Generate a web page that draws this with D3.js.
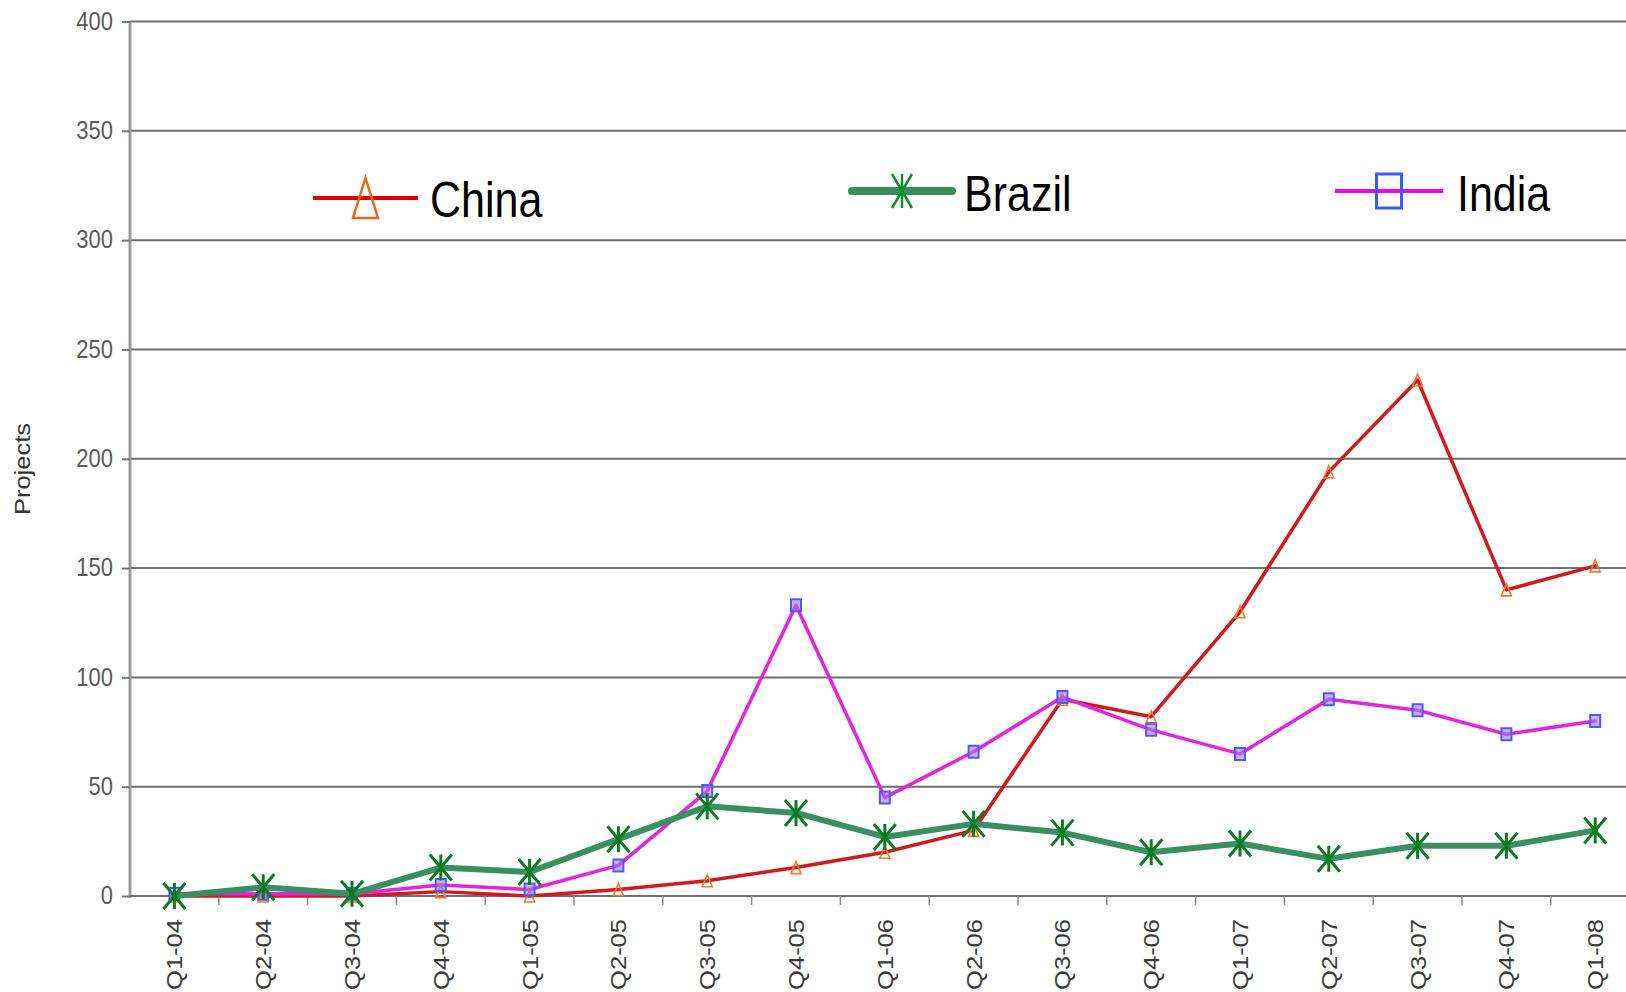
<!DOCTYPE html>
<html>
<head>
<meta charset="utf-8">
<script src="https://cdn.jsdelivr.net/npm/d3@7"></script>
<style>
  html, body { margin: 0; padding: 0; background: #fff; overflow: hidden; }
  svg { display: block; font-family: "Liberation Sans", Arial, sans-serif; }
</style>
</head>
<body>
<svg id="chart" width="1626" height="992"></svg>
<script>
// Quarterly project counts per country
const quarters = ["Q1-04","Q2-04","Q3-04","Q4-04","Q1-05","Q2-05","Q3-05","Q4-05",
                  "Q1-06","Q2-06","Q3-06","Q4-06","Q1-07","Q2-07","Q3-07","Q4-07","Q1-08"];
const china  = [0, 0, 0, 2, 0, 3, 7, 13, 20, 30, 90, 82, 130, 194, 236, 140, 151];
const brazil = [0, 4, 1, 13, 11, 26, 41, 38, 27, 33, 29, 20, 24, 17, 23, 23, 30];
const india  = [1, 1, 1, 5, 3, 14, 48, 133, 45, 66, 91, 76, 65, 90, 85, 74, 80];
const yTicks = [0, 50, 100, 150, 200, 250, 300, 350, 400];
const legendNames = ["China", "Brazil", "India"];

const svg = d3.select("#chart");
const left = 130, band = 88.8;
const x = d3.scaleBand().domain(quarters).range([left, left + band * quarters.length]);
const y = d3.scaleLinear().domain([0, 400]).range([896, 21.5]);
const cx = d => x(d) + x.bandwidth() / 2;

// horizontal gridlines
svg.append("g").selectAll("line").data(yTicks.filter(v => v > 0)).join("line")
  .attr("x1", left).attr("x2", 1626)
  .attr("y1", d => y(d)).attr("y2", d => y(d))
  .attr("stroke", "#6e6e6e").attr("stroke-width", 2);

// y axis
const yAxis = svg.append("g").attr("transform", `translate(${left},0)`)
  .call(d3.axisLeft(y).tickValues(yTicks).tickSize(8).tickPadding(9));
yAxis.select(".domain").attr("stroke", "#9a9a9a").attr("stroke-width", 3)
  .attr("d", `M0,${y(400)}V${y(0) + 2}`);
yAxis.selectAll(".tick line").attr("stroke", "#777").attr("stroke-width", 2);
yAxis.selectAll(".tick text")
  .attr("font-size", 22).attr("fill", "#5a5a5a")
  .attr("transform", "scale(1,1.16)").attr("dy", "0.3em");

// x axis baseline and boundary ticks
svg.append("line").attr("x1", left).attr("x2", 1626)
  .attr("y1", y(0)).attr("y2", y(0)).attr("stroke", "#6e6e6e").attr("stroke-width", 2);
svg.append("g").selectAll("line").data(quarters.slice(1)).join("line")
  .attr("x1", d => x(d)).attr("x2", d => x(d))
  .attr("y1", y(0)).attr("y2", y(0) + 9)
  .attr("stroke", "#8a8a8a").attr("stroke-width", 1.5);

// category labels
const xAxis = svg.append("g").attr("transform", `translate(0,${y(0)})`)
  .call(d3.axisBottom(x).tickSize(0).tickPadding(0));
xAxis.select(".domain").remove();
xAxis.selectAll(".tick text")
  .attr("font-size", 22).attr("fill", "#3a3a3a")
  .attr("text-anchor", "end").attr("y", 0).attr("dy", "0.36em")
  .attr("transform", "translate(0,23) rotate(-90) scale(1.16,1)");

// axis title
svg.append("text").attr("transform", "translate(30,469) rotate(-90) scale(1.16,1)")
  .attr("text-anchor", "middle").attr("font-size", 22).attr("fill", "#333")
  .text("Projects");

// marker shapes
const triPath = (w, h) => `M0,${-h / 2}L${w / 2},${h / 2}L${-w / 2},${h / 2}Z`;
const sqPath = (w, h) => `M${-w / 2},${-h / 2}H${w / 2}V${h / 2}H${-w / 2}Z`;
const starPath = (w, h) => `M${-w / 2},${-h / 2}L${w / 2},${h / 2}M${-w / 2},${h / 2}L${w / 2},${-h / 2}M0,${-h / 2}V${h / 2}`;

const series = [
  { name: "China", values: china, line: "#d01a1e", lw: 3.5,
    shape: triPath(10, 12), mStroke: "#f07a30", mFill: "none", mw: 1.6 },
  { name: "India", values: india, line: "#e024e0", lw: 3.5,
    shape: sqPath(10, 12), mStroke: "#4b5cf0", mFill: "rgba(170,120,235,0.6)", mw: 2 },
  { name: "Brazil", values: brazil, line: "#3a8f62", lw: 6,
    shape: starPath(22, 26), mStroke: "#0b7a22", mFill: "none", mw: 3 }
];

const line = d3.line().x((d, i) => cx(quarters[i])).y(d => y(d));
series.forEach(s => {
  const g = svg.append("g");
  g.append("path").datum(s.values).attr("d", line)
    .attr("fill", "none").attr("stroke", s.line).attr("stroke-width", s.lw)
    .attr("stroke-linejoin", "round").attr("stroke-linecap", "round");
  g.selectAll("path.m").data(s.values).join("path").attr("class", "m")
    .attr("transform", (d, i) => `translate(${cx(quarters[i])},${y(d)})`)
    .attr("d", s.shape).attr("fill", s.mFill)
    .attr("stroke", s.mStroke).attr("stroke-width", s.mw);
});

// legend
const legend = [
  { x1: 313, x2: 418, ly: 198, tx: 430, ty: 217, color: "#e00000", lw: 4,
    shape: triPath(25, 40), mStroke: "#e8681e", mw: 2.5, cap: "butt" },
  { x1: 852, x2: 952, ly: 191, tx: 964, ty: 211, color: "#3d8c5e", lw: 8,
    shape: starPath(20, 34), mStroke: "#10902a", mw: 2.5, cap: "round" },
  { x1: 1335, x2: 1443, ly: 191, tx: 1457, ty: 211, color: "#ee00ee", lw: 4,
    shape: sqPath(25, 34), mStroke: "#3a5cf0", mw: 3, cap: "butt" }
];
const lg = svg.append("g").selectAll("g").data(legend).join("g");
lg.append("line").attr("x1", d => d.x1).attr("x2", d => d.x2)
  .attr("y1", d => d.ly).attr("y2", d => d.ly)
  .attr("stroke", d => d.color).attr("stroke-width", d => d.lw)
  .attr("stroke-linecap", d => d.cap);
lg.append("path")
  .attr("transform", d => `translate(${(d.x1 + d.x2) / 2},${d.ly})`)
  .attr("d", d => d.shape).attr("fill", "none")
  .attr("stroke", d => d.mStroke).attr("stroke-width", d => d.mw);
lg.append("text").attr("transform", d => `translate(${d.tx},${d.ty}) scale(1,1.16)`)
  .attr("font-size", 43).attr("fill", "#000")
  .text((d, i) => legendNames[i]);
</script>
</body>
</html>
